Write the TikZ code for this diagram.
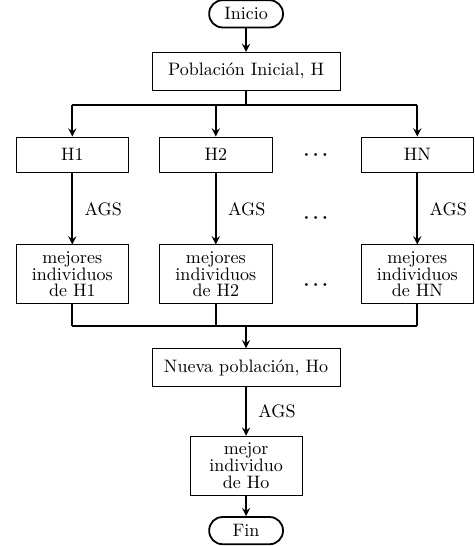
\documentclass[tikz,border=0pt]{standalone}
\begin{document}
\begin{tikzpicture}[>=stealth,
  terminal/.style={rectangle,draw,line width=1pt,rounded corners=0.26cm,minimum width=1.44cm,minimum height=0.53cm},
  process/.style={rectangle,draw,minimum width=2.2cm,minimum height=0.7cm},
  wide/.style={process,minimum width=3.66cm,minimum height=0.74cm},
  result/.style={process,minimum height=1.15cm,align=center,font=\fontsize{10}{9.3}\selectfont},
  ellipsis/.style={font=\boldmath},
  flow/.style={->,line width=1pt},
  link/.style={line width=1pt}]
\useasboundingbox (0,0) rectangle (9.25,-10.65);
\node[terminal] (start) at (4.8,-0.27) {Inicio};
\node[wide] (pop) at (4.8,-1.39) {Población Inicial, H};
\coordinate (split) at (4.8,-2.05);
\coordinate (merge) at (4.8,-6.36);
\draw[flow] (start) -- (pop);
\draw[link] (pop) -- (split);
\foreach \col/\x in {1/1.41,2/4.21,N/8.14}{
  \node[process] (h\col) at (\x,-3.02) {H\col};
  \node[result] (best\col) at (\x,-5.35) {mejores\\individuos\\de H\col};
  \draw[flow] (split -| h\col) -- (h\col);
  \draw[flow] (h\col) -- node[right=3pt] {AGS} (best\col);
  \draw[link] (best\col) -- (merge -| best\col);
}
\draw[link] (split -| h1) -- (split -| hN);
\draw[link] (merge -| best1) -- (merge -| bestN);
% puntos suspensivos entre H2 y HN
\foreach \y [count=\i] in {-3.02,-4.25,-5.56}
  \node[ellipsis] (dots\i) at (6.16,\y) {$\cdots$};
\node[wide] (newpop) at (4.8,-7.17) {Nueva población, Ho};
\node[result,minimum width=2.18cm] (bestHo) at (4.8,-9.08) {mejor\\individuo\\de Ho};
\node[terminal] (end) at (4.8,-10.35) {Fin};
\draw[flow] (merge) -- (newpop);
\draw[flow] (newpop) -- node[right=3pt] {AGS} (bestHo);
\draw[flow] (bestHo) -- (end);
\end{tikzpicture}
\end{document}
